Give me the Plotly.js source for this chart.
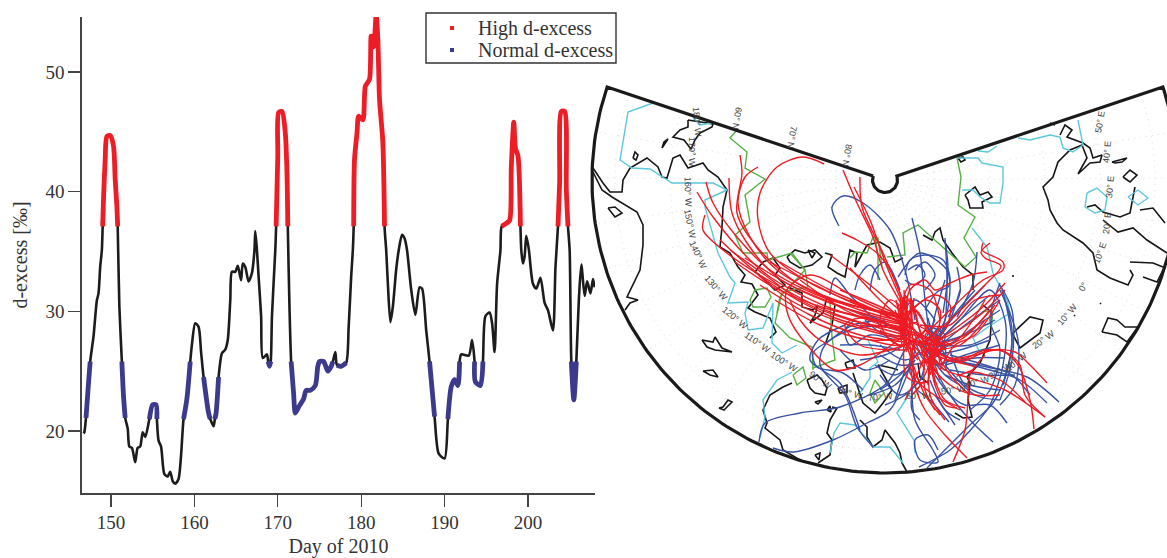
<!DOCTYPE html>
<html><head><meta charset="utf-8">
<script src="https://cdn.plot.ly/plotly-3.0.1.min.js"></script>
<style>html,body{margin:0;padding:0;background:#fff}</style></head>
<body><div id="chart" style="width:1167px;height:558px"></div>
<script>
const days=[146.7,146.8,147.0,147.3,147.5,147.9,148.3,148.5,148.7,148.9,149,149.1,149.3,149.5,149.9,150.3,150.5,150.7,150.8,151,151.3,151.5,151.7,152,152.2,152.5,152.9,153.2,153.5,153.8,154.1,154.6,155,155.4,155.5,155.7,156,156.4,156.8,157.1,157.4,157.7,158.1,158.7,159.1,159.5,159.7,160.1,160.5,160.8,161.1,161.7,161.9,162.3,162.45,162.6,162.9,163.3,163.7,164,164.3,164.5,164.9,165.2,165.6,165.8,166.1,166.5,166.9,167.2,167.3,167.5,167.7,168,168.2,168.7,168.85,169,169.15,169.3,169.7,169.8,170,170.1,170.5,170.9,171.1,171.2,171.4,171.6,171.9,172.1,172.5,173.1,173.4,173.9,174.5,174.8,175,175.5,176,176.4,176.6,176.9,177.1,177.6,178.2,178.5,178.8,179,179.1,179.2,179.5,179.7,180.2,180.5,181,181.2,181.5,181.8,182,182.2,182.6,182.8,183,183.2,183.5,183.8,184.2,184.5,184.9,185.2,185.5,186,186.5,187,187.3,187.8,188.2,188.8,189.3,190,190.4,190.8,191.2,191.6,191.8,192,192.9,193.3,193.6,193.7,194.3,194.6,194.9,195.4,195.7,196,196.3,196.7,196.85,197.3,197.8,198,198.3,198.5,198.8,199.1,199.2,199.4,199.6,199.8,200.1,200.6,201,201.5,202,202.4,203,203.3,203.6,203.8,204,204.4,204.6,204.8,205,205.2,205.5,205.8,206.1,206.4,206.8,207.1,207.5,207.8,208];
const dExcess=[19.8,19.9,21.1,24,25.8,27.9,30.9,31.5,33.7,35.1,37.1,39.4,42.7,44.6,44.7,43.8,41,38.8,37.1,30.4,25.8,22.9,21.1,20.2,18.7,18.6,17.4,18.6,18.7,19.9,19.5,21,22.2,22.2,21,19.2,18.7,16.4,16.2,16.6,15.8,15.6,16,21,22.7,25.8,27.2,29,28.7,26.6,24.5,21.5,21,20.4,21,21.5,24.5,26.5,26.8,27.6,30.9,33.3,33.3,33.8,32.6,34,33.7,32.5,33.2,35.1,36.7,35.1,32.9,29.6,26.1,26.4,25.8,25.4,25.8,29.6,35.1,37.1,43,46.6,46.7,44.9,41.6,37.1,30.4,25.8,23.1,21.5,22,22.7,23.4,23.4,23.8,25.4,25.8,25.8,25,25.4,25.8,26.6,25.5,25.4,25.7,28.7,32.9,35.1,37.1,42.7,44.9,46.3,46,48.8,49.4,53,52.1,54.8,52.7,47.7,44.1,37.1,35.1,32.3,29.1,30.4,33.5,35.1,36.4,36.1,35.1,31.8,29.7,32,31.9,28.4,25.8,21.2,18.1,17.7,21,23.7,24.3,23.8,25.8,26.4,26.3,27.6,25.8,24.1,23.8,25.8,29.6,29.9,29,26.6,32.3,35.1,37.1,37.3,37.6,42,45.8,43.6,43,37.1,35.1,34,34.6,36.3,35.2,32.3,31.9,32.8,30.7,30.1,28.4,33.7,37.1,40.7,46.7,46.7,40.2,37.1,35.1,25.8,22.6,25.8,30.9,33.9,31.3,32.5,31.5,32.7,32];
const xTicks=[150,160,170,180,190,200];
const yTicks=[20,30,40,50];
const highCut=37.05, normalLow=20.95, normalHigh=25.85;
const legendNames=['High d-excess','Normal d-excess'];

/* map polylines, in the map's own plane coordinates */
const coast=[
[[688,120],[695,121],[702,122],[713,124],[712,127],[700,133],[695,140],[691,149],[684,140],[673,137],[680,130],[688,127],[688,120]],
[[662,148],[667,140],[668,139],[664,142],[662,148]],
[[633,158],[635,152],[638,155],[636,160],[633,158]],
[[593,168],[603,183],[610,192],[622,192],[623,180],[630,168],[647,158],[658,167],[662,177],[667,178],[673,158],[680,155],[688,168],[703,163],[708,170],[718,177],[727,190],[723,207],[722,227],[720,247],[730,253],[738,267],[745,275],[741,282],[752,284],[758,295],[748,308],[755,312],[770,318],[776,332],[770,338]],
[[593,172],[602,190],[612,197],[628,207],[637,212],[643,225],[643,245],[640,270],[627,297],[638,300],[630,303],[625,310]],
[[608,208],[615,207],[622,213],[615,217],[608,208]],
[[702,340],[713,342],[715,337],[722,348],[732,352],[715,350],[707,347],[702,340]],
[[703,371],[713,370],[718,377],[710,375],[703,371]],
[[719,408],[723,407],[728,400],[732,402],[727,407],[724,410],[719,408]],
[[763,262],[773,258],[780,268],[775,275],[785,285],[775,290],[765,280],[755,272],[763,262]],
[[787,257],[795,250],[805,253],[815,250],[822,257],[812,265],[800,268],[790,262],[787,257]],
[[808,250],[815,253],[812,258],[808,250]],
[[825,253],[832,255],[828,267],[837,273],[845,277],[850,250],[857,253],[855,267],[860,258],[867,245],[880,242],[890,248],[895,262],[903,258]],
[[788,287],[802,293],[802,307],[813,310],[818,305],[815,315],[810,323],[823,313],[827,297],[835,305],[832,325],[825,345]],
[[792,383],[783,387],[770,395],[763,410],[767,423],[765,428],[780,440],[783,450],[800,460]],
[[832,407],[837,408],[830,420],[827,433],[832,440],[830,455],[818,463]],
[[807,380],[817,375],[822,380],[827,388],[825,395],[815,393],[810,388],[807,380]],
[[815,402],[822,400],[818,404],[815,402]],
[[827,410],[830,406],[831,412],[827,410]],
[[815,455],[820,453],[819,460],[815,455]],
[[838,388],[847,385],[847,392],[840,393],[838,388]],
[[845,363],[853,360],[855,368],[847,368],[845,363]],
[[853,373],[860,393],[863,403],[875,413],[883,403],[892,390],[885,377],[878,365],[892,368],[898,370]],
[[860,420],[867,427],[867,437],[873,447],[882,440],[885,430],[895,443],[900,453],[902,463],[907,472]],
[[983,305],[992,313],[990,340],[980,363],[967,377],[970,383],[968,400],[972,417],[963,418],[955,413]],
[[918,363],[920,377],[928,383]],
[[923,235],[932,240],[935,232],[940,228],[943,240],[952,253],[963,267],[973,275],[973,290]],
[[965,195],[975,187],[980,195],[988,192],[992,197],[982,202],[983,208],[970,208],[968,200],[965,195]],
[[958,158],[963,157],[965,160],[961,162],[958,158]],
[[1050,123],[1055,125]],
[[1060,135],[1065,125],[1072,130],[1067,137],[1083,143],[1090,148],[1093,158],[1102,155],[1100,162],[1090,163],[1078,174],[1087,158],[1082,145],[1070,150],[1058,162],[1053,177],[1043,187],[1048,200],[1050,210],[1057,223],[1063,230],[1083,243],[1093,253],[1097,270],[1110,278],[1128,285],[1133,275],[1130,270]],
[[1112,162],[1127,158],[1122,162],[1115,163],[1112,162]],
[[1123,177],[1130,170],[1137,175],[1130,182],[1123,177]],
[[1087,207],[1095,205],[1103,212],[1120,217],[1130,213],[1135,187]],
[[1103,220],[1118,232],[1133,228],[1147,240],[1167,253]],
[[1140,210],[1153,208],[1165,223]],
[[1130,262],[1153,263],[1163,267]],
[[1143,277],[1157,282],[1163,270]],
[[1102,332],[1108,318],[1117,320],[1125,327],[1138,327],[1127,342],[1117,335],[1102,332]],
[[1013,333],[1030,317],[1043,320],[1040,333],[1020,348],[1012,333]],
[[1013,275],[1013,277]],[[1100,303],[1101,304]],[[1074,315],[1075,316]]
];
const cyanLines=[
[[653,103],[628,112],[620,160],[632,168],[650,169],[672,183],[713,183],[727,190],[705,200],[705,207],[718,253],[730,277],[735,283],[728,303],[748,302],[745,313],[748,330],[763,328],[773,303],[772,343],[782,353],[797,345]],
[[693,117],[700,125],[712,123]],
[[868,340],[878,362],[870,368],[870,378],[860,393]],
[[792,372],[777,380],[763,400],[765,417],[760,438]],
[[830,453],[834,433],[840,423],[855,425],[873,447],[890,447],[903,463]],
[[910,393],[897,413],[915,442],[915,453]],
[[958,158],[978,158],[982,163],[1003,167],[1003,183],[1000,203],[990,203],[980,197],[973,190],[962,190]],
[[978,151],[988,152],[997,146]],
[[1018,138],[1030,140],[1050,135],[1060,137],[1063,148],[1073,152],[1083,145],[1078,120]],
[[1087,193],[1097,188],[1107,197],[1105,210],[1095,213],[1085,207],[1087,193]],
[[1128,197],[1138,190],[1148,198],[1138,205],[1128,197]],
[[972,228],[987,247],[993,273],[1007,300],[1010,313],[988,327],[973,338],[980,353]]
];
const greenLines=[
[[737,130],[730,138],[747,152],[745,168],[765,179],[745,195],[750,222],[735,235],[743,253],[767,253],[768,260],[792,253],[805,270],[808,287],[782,292],[777,313],[775,323],[790,338],[812,347],[813,370]],
[[793,375],[803,367],[806,378],[797,385],[793,375]],
[[750,300],[755,290],[767,288],[771,297],[765,307],[753,307],[750,300]],
[[830,303],[832,337],[835,360],[813,368]],
[[850,258],[855,252],[867,253],[873,237],[878,238],[882,267]],
[[957,158],[961,177],[958,205],[975,217],[964,238],[976,257],[965,267],[918,225],[903,233],[905,255],[887,257]],
[[875,237],[878,257],[878,280]],
[[982,312],[992,310],[992,323],[985,325]],
[[875,380],[884,393],[875,403],[870,393],[875,380]],
[[790,253],[805,270],[780,297],[777,313]]
];
const blueTracks=[
[[759,442],[765,423],[800,413],[840,407],[887,383],[905,350],[920,335]],
[[773,448],[793,452],[833,440],[867,423],[890,410],[905,380],[915,350]],
[[839,226],[832,207],[843,196],[863,203],[890,230],[905,270],[915,320]],
[[912,218],[920,253],[925,300],[930,340]],
[[945,238],[947,280],[945,320],[935,350]],
[[898,277],[920,253],[947,270],[950,287],[945,320],[930,345]],
[[1059,402],[1027,377],[987,367],[955,360],[935,350]],
[[1047,403],[1020,380],[990,370],[950,360]],
[[1030,395],[1012,375],[985,365],[950,355]],
[[1002,290],[1012,330],[1007,370],[993,403],[970,425],[927,468]],
[[919,467],[950,450],[975,425],[990,405],[1003,365],[1005,320],[990,290],[960,320],[935,345]],
[[1007,423],[990,405],[965,405],[950,395],[935,375]],
[[993,442],[970,420],[950,395],[930,360]],
[[949,422],[930,400],[915,387],[910,360]],
[[912,380],[915,420],[933,450],[938,462],[920,460],[915,440],[928,435],[938,450]],
[[1000,285],[1012,310],[1012,360],[1000,400]],
[[1000,283],[990,320],[1000,350],[990,390],[970,410]],
[[863,390],[843,373],[817,367],[813,353],[830,340],[853,325],[885,320]],
[[873,447],[857,427],[845,395],[820,365],[825,345],[850,330],[890,325]],
[[860,430],[840,383],[822,370],[810,360],[818,340],[845,325]],
[[855,320],[845,330],[850,345],[870,335],[895,340]],
[[830,295],[835,278],[850,295],[880,325]],
[[855,290],[860,275],[870,265],[880,280]],
[[870,290],[875,270],[885,262],[900,290]],
[[905,275],[910,260],[925,255],[943,260],[950,278],[948,287],[937,292],[925,310]],
[[945,240],[948,270],[943,313]],
[[957,267],[960,293],[948,317]],
[[977,252],[973,283],[957,317]],
[[985,285],[960,310],[935,340]],[[990,295],[960,320],[935,345]],[[975,290],[950,320],[930,350]],
[[1000,300],[965,325],[935,350]],[[1000,310],[970,330],[935,355]],[[995,320],[965,335],[930,345]],
[[915,330],[935,365],[945,360],[935,340],[920,345]],
[[922,320],[938,340]],[[935,320],[925,340]],[[928,318],[935,345]],[[940,325],[925,345]],
[[908,270],[918,265],[925,275],[915,285],[905,280]],
[[915,270],[925,262],[935,275],[925,290]],
[[840,345],[870,345],[900,350]],[[875,365],[895,375],[915,360]],[[880,390],[900,375],[920,350]],
[[895,400],[905,370]],[[880,345],[905,360],[925,350]],[[880,355],[900,365],[935,360]],
[[912,390],[912,410],[920,420]],[[930,380],[945,410],[960,420]],
[[950,350],[965,385],[985,395]],[[945,365],[975,395],[1000,400]],
[[1005,300],[1012,345],[1003,385]],[[1000,290],[1018,340],[1015,385],[1000,405]],
[[1000,330],[970,345],[940,345]],[[990,340],[960,350],[935,355]],[[1000,345],[965,355],[940,365]],
[[1005,358],[975,358],[945,365]],[[1015,375],[985,375],[950,370]],[[1000,390],[970,385],[945,375]],
[[920,340],[945,375],[960,385]],[[925,345],[945,370],[945,345]],[[930,330],[945,345],[930,360],[925,340]],
[[925,325],[945,335],[940,350]],[[915,340],[925,360],[945,345]],[[870,395],[895,385],[915,360]],
[[880,375],[900,395],[920,380],[925,360]],[[885,405],[905,395],[925,375]],[[860,360],[885,355],[905,345]],
[[840,350],[865,370],[890,360]],[[900,315],[915,300],[935,320]],[[945,280],[935,315],[930,340]],
[[960,290],[950,320],[935,345]],[[865,320],[885,335],[910,335]],[[850,310],[880,320],[905,335]],[[935,395],[955,425]]
];
const redTracks=[
[[740,155],[742,173],[737,213],[757,247],[800,285],[860,310],[905,322]],
[[758,167],[745,177],[738,203],[750,237],[777,270],[830,298],[905,318]],
[[729,178],[732,213],[747,243],[777,277],[830,303],[908,325]],
[[706,182],[713,203],[737,237],[770,270],[830,300],[905,315]],
[[697,192],[713,217],[747,257],[770,277],[830,308],[905,328]],
[[705,215],[703,230],[723,250],[763,277],[830,312],[905,335]],
[[824,164],[803,157],[777,167],[760,193],[758,220],[770,253],[810,283],[860,305],[905,320]],
[[843,170],[857,203],[873,237],[883,270],[905,310]],
[[854,187],[870,220],[887,267],[908,315]],
[[860,177],[862,207],[883,253],[905,305]],
[[842,233],[857,240],[877,253],[890,270],[910,320]],
[[730,250],[765,275],[800,300],[850,320],[905,330]],
[[753,270],[790,300],[840,322],[905,340]],
[[905,335],[860,365],[835,370],[807,345],[788,315],[787,290],[810,275],[860,300],[905,320]],
[[905,345],[860,355],[820,340],[800,320],[790,300]],
[[905,350],[860,345],[845,325],[860,318],[905,330]],
[[983,243],[982,250],[1003,262],[1003,270],[983,280],[950,310],[925,335]],
[[990,243],[981,252],[985,258],[1001,266],[985,285],[950,320],[925,340]],
[[987,272],[970,275],[950,283],[935,290],[925,280],[910,290],[905,320]],
[[1005,283],[985,305],[960,325],[935,340],[915,335]],
[[1005,290],[980,315],[950,335],[925,345]],
[[1000,295],[975,300],[950,325],[920,325]],
[[1034,429],[1030,400],[1018,365],[1000,350],[975,355],[950,358],[928,345]],
[[1045,417],[1025,395],[1020,365],[1005,352],[985,350],[960,360],[930,350]],
[[1047,383],[1030,365],[1015,352],[990,350],[960,362],[935,355]],
[[1025,402],[1000,380],[970,372],[957,376],[975,368],[945,360]],
[[1045,417],[1005,390],[970,378],[945,370],[930,355]],
[[957,408],[945,405],[935,385],[930,360]],
[[953,462],[965,430],[968,400],[970,375],[985,355]],
[[967,458],[945,435],[925,410],[915,385],[912,350]],
[[935,410],[925,390],[925,350]],[[965,408],[945,400],[935,380],[930,350]],
[[905,330],[907,377],[927,382],[930,363],[935,340]],
[[915,340],[910,373],[930,392],[960,410]],
[[905,300],[908,330],[912,360],[915,380]],[[900,305],[910,340],[925,370]],
[[895,310],[905,335],[930,365],[935,385]],[[910,305],[915,335],[935,370]],
[[915,310],[925,345],[940,365]],[[905,295],[925,325],[935,350],[930,375]],
[[905,310],[890,300],[880,320],[890,340],[915,350]],
[[905,320],[925,300],[940,310],[935,335],[915,345]],
[[900,315],[910,285],[930,290],[940,320]],
[[905,315],[935,295],[950,305],[945,330],[925,345]],
[[880,330],[900,345],[925,330],[915,310],[895,320]],
[[870,340],[905,345],[930,325]],[[860,325],[905,330],[945,345]],
[[850,300],[905,325],[945,350]],[[840,290],[905,318],[950,345]],
[[902,300],[906,340]],[[908,300],[904,345]],[[912,305],[900,340]],[[898,305],[912,345]],
[[900,298],[903,325],[908,350]],[[906,296],[900,320],[902,345]],[[910,298],[912,325],[906,352]],
[[920,340],[935,375]],[[940,340],[925,375]],[[945,345],[920,365]],[[925,335],[940,380]],
[[930,345],[928,385]],[[918,335],[942,360]],
[[896,300],[904,335]],[[914,298],[908,338]],[[904,290],[906,330]],[[893,318],[915,330]],[[892,328],[918,322]],
[[735,262],[775,288],[825,308],[905,325]],[[745,258],[790,285],[850,310],[905,332]],
[[770,262],[815,285],[865,308],[908,318]],[[760,285],[810,315],[860,335],[905,342]],
[[775,300],[820,325],[870,340],[905,338]],[[780,262],[830,290],[880,312],[910,328]],
[[800,280],[845,310],[890,328],[915,335]],[[720,240],[770,283],[830,316],[905,338]],
[[850,268],[880,300],[915,330]],[[830,255],[870,285],[905,315]],
[[905,340],[915,370],[925,395],[940,415]],[[930,360],[930,395],[945,420]],[[925,355],[915,380],[905,400]],
[[935,350],[950,375],[970,395]],[[930,350],[960,345],[985,320]],[[935,345],[965,335],[995,305]],
[[925,330],[950,345],[985,300]],[[910,340],[930,345],[960,340],[990,310]],[[940,370],[955,345],[975,335],[1000,300]],
[[925,360],[950,385],[975,395],[1000,395]],[[908,365],[920,385],[912,395],[925,380]],
[[903,300],[910,325],[915,350]],[[900,310],[908,345],[918,360]],[[912,300],[918,325],[925,345]],
[[895,325],[915,340],[935,345]],[[898,335],[918,345],[940,355]],[[925,340],[935,355],[945,345]],
[[925,355],[935,340],[940,365]],[[920,345],[930,370],[935,345]]
];
const latLabels=[["60° N",737,118,100],["70° N",792,137,100],["80° N",847,155,100]];
const lonLabels=[["180° W",697,122,85],["170° W",692,152,90],["160° W",688,192,88],["150° W",690,224,78],["140° W",698,255,65],["130° W",716,288,50],["120° W",735,318,40],["110° W",757,342,35],["100° W",784,362,33],["90° W",820,380,35],["80° W",850,393,15],["70° W",880,397,-5],["60° W",918,396,0],["50° W",953,390,-8],["40° W",977,382,-15],["30° W",1000,371,-30],["20° W",1016,362,-40],["20° W",1043,340,-35],["10° W",1067,315,-50],["0°",1083,287,-60],["10° E",1100,253,-70],["20° E",1107,223,-85],["30° E",1110,187,-85],["40° E",1107,152,-85],["50° E",1100,122,-80]];

/* map frame geometry */
const poleX=885, poleY=180, outerR=293, notchR=12.5;
const ringRadii=[50,105,160,215,270];
const cornerA=18.5*Math.PI/180;

function flat(lines){const x=[],y=[];lines.forEach(l=>{l.forEach(p=>{x.push(p[0]);y.push(p[1]);});x.push(null);y.push(null);});return {x,y};}
function arc(r,a0,a1,n){const o=[];for(let i=0;i<=n;i++){const a=a0+(a1-a0)*i/n;o.push([poleX+r*Math.cos(a),poleY+r*Math.sin(a)]);}return o;}
const frameArcOuter=arc(outerR,Math.PI+cornerA,-cornerA,200);
const frameArcNotch=arc(notchR,Math.PI+cornerA,-cornerA,40);
const frame=[...frameArcNotch,...frameArcOuter.slice().reverse()];
frame.push(frameArcNotch[0]);
const gridLines=ringRadii.map(r=>arc(r,Math.PI+cornerA,-cornerA,90));
for(let k=1;k<24;k++){const a=Math.PI+cornerA+(-cornerA-Math.PI-cornerA)*k/24;
  gridLines.push([[poleX+notchR*Math.cos(a),poleY+notchR*Math.sin(a)],[poleX+outerR*Math.cos(a),poleY+outerR*Math.sin(a)]]);}

const high=dExcess.map(v=>v>=highCut?v:null);
const normal=dExcess.map(v=>(v>=normalLow&&v<=normalHigh)?v:null);
const grid=flat(gridLines),cs=flat(coast),cy=flat(cyanLines),gr=flat(greenLines),bl=flat(blueTracks),rd=flat(redTracks);
const mapLine=(d,color,width,extra)=>({x:d.x,y:d.y,xaxis:'x2',yaxis:'y2',mode:'lines',showlegend:false,hoverinfo:'skip',line:Object.assign({color,width},extra||{})});
const W=1167,H=558;
const smooth={shape:'spline',smoothing:0.7};
const data=[
 {x:days,y:dExcess,mode:'lines',line:Object.assign({color:'#1c1c1c',width:2.6},smooth),showlegend:false},
 {x:days,y:high,mode:'lines',line:Object.assign({color:'#ee1c25',width:4.8},smooth),showlegend:false,connectgaps:false},
 {x:days,y:normal,mode:'lines',line:Object.assign({color:'#3c3a8c',width:4.8},smooth),showlegend:false,connectgaps:false},
 mapLine(grid,'#dadada',0.9,{dash:'1px 5px'}),
 mapLine(cs,'#161616',1.6),
 mapLine(cy,'#5cc8dc',1.4),
 mapLine(gr,'#55b043',1.4),
 mapLine(bl,'#3853a4',1.4,{shape:'spline',smoothing:0.9}),
 mapLine(rd,'#ee1c25',1.4,{shape:'spline',smoothing:0.9}),
 mapLine(flat([frame]),'#1a1a1a',3.2),
 {x:[452,452],y:[28,50],xaxis:'x2',yaxis:'y2',mode:'markers',showlegend:false,hoverinfo:'skip',marker:{symbol:'square',size:4,color:['#ee1c25','#3c3a8c']}}
];
const serif='"Liberation Serif","Times New Roman",serif';
const annos=latLabels.concat(lonLabels).map(l=>({text:l[0],x:l[1],y:l[2],xref:'x2',yref:'y2',textangle:l[3],showarrow:false,font:{family:'"Liberation Sans",Arial,sans-serif',size:9,color:'#444'}}));
legendNames.forEach((n,i)=>annos.push({text:n,x:476,y:i?50:28,xref:'x2',yref:'y2',xanchor:'left',yanchor:'middle',showarrow:false,font:{family:serif,size:20,color:'#333'}}));
const layout={
 width:W,height:H,margin:{l:0,r:0,t:0,b:0},paper_bgcolor:'#fff',plot_bgcolor:'rgba(0,0,0,0)',
 font:{family:serif,color:'#333',size:19},showlegend:false,
 xaxis:{domain:[82/W,595/W],range:[146.52,208.04],tickvals:xTicks,ticks:'outside',ticklen:12,tickwidth:1.2,tickcolor:'#444',showline:true,linecolor:'#444',linewidth:1.6,showgrid:false,zeroline:false,automargin:false,anchor:'y',
   tickfont:{size:19,color:'#333'},title:{text:'Day of 2010',font:{size:20,color:'#333'},standoff:10}},
 yaxis:{domain:[(H-493)/H,(H-17)/H],range:[14.82,54.59],tickvals:yTicks,ticks:'outside',ticklen:12,tickwidth:1.2,tickcolor:'#444',showline:true,linecolor:'#444',linewidth:1.6,showgrid:false,zeroline:false,automargin:false,anchor:'x',
   tickfont:{size:19,color:'#333'},title:{text:'d-excess [‰]',font:{size:20,color:'#333'},standoff:12}},
 xaxis2:{domain:[0,1],range:[0,W],visible:false,fixedrange:true,anchor:'y2'},
 yaxis2:{domain:[0,1],range:[H,0],visible:false,fixedrange:true,anchor:'x2'},
 shapes:[{type:'rect',xref:'x2',yref:'y2',x0:426,x1:616,y0:13,y1:63,line:{color:'#333',width:1.4},fillcolor:'#fff',layer:'below'}],
 annotations:annos
};
Plotly.newPlot('chart',data,layout,{displayModeBar:false,staticPlot:true});
</script></body></html>
